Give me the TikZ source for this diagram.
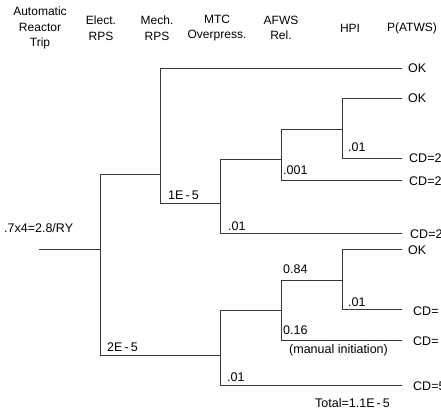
\documentclass[tikz,border=0pt]{standalone}
\usepackage{fontspec}
\setmainfont{Liberation Sans}
\begin{document}
\begin{tikzpicture}[x=1pt,y=-1pt,
  ln/.style={draw=black!78,line width=0.75pt},
  hd/.style={align=center,inner sep=0pt,font=\fontsize{12}{15.5}\selectfont},
  lb/.style={anchor=west,inner sep=0pt,font=\fontsize{12.5}{14}\selectfont},
  en/.style={anchor=west,inner sep=0pt,font=\fontsize{12.5}{14}\selectfont}]
\clip (0,0) rectangle (441,416);
\fill[white] (0,0) rectangle (441,416);
% headers
\node[hd] (h1) at (40,28) {Automatic\\Reactor\\Trip};
\node[hd] (h2) at (101,28) {Elect.\\RPS};
\node[hd] (h3) at (157,28) {Mech.\\RPS};
\node[hd] (h4) at (217,28) {MTC\\Overpress.};
\node[hd] (h5) at (281,28) {AFWS\\Rel.};
\node[hd] (h6) at (350,28) {HPI};
\node[hd] (h7) at (412,28) {P(ATWS)};
% coordinates
\coordinate (s) at (39,249);
\coordinate (j0) at (100,249);
\coordinate (j0t) at (100,174);
\coordinate (j0b) at (100,355);
\coordinate (bt) at (160,68);
\coordinate (bb) at (160,203);
\coordinate (ct) at (220,159);
\coordinate (cb) at (220,233);
\coordinate (dt) at (281,129);
\coordinate (db) at (281,180);
\coordinate (et) at (342,98);
\coordinate (eb) at (342,158);
\coordinate (ft) at (220,310);
\coordinate (fb) at (220,385);
\coordinate (gt) at (281,280);
\coordinate (gb) at (281,340);
\coordinate (ht) at (342,249);
\coordinate (hb) at (342,309);
% ends
\coordinate (o1) at (402,68);
\coordinate (o2) at (402,98);
\coordinate (o3) at (402,158);
\coordinate (o4) at (402,180);
\coordinate (o5) at (402,233);
\coordinate (o6) at (402,249);
\coordinate (o7) at (402,309);
\coordinate (o8) at (402,340);
\coordinate (o9) at (402,385);
% tree
\draw[ln] (s) -- (j0);
\draw[ln] (j0t) -- (j0b);
\draw[ln] (j0t) -- (bt |- j0t);
\draw[ln] (o1) -| (bb) -- (cb |- bb);
\draw[ln] (ct) -- (cb) -- (o5);
\draw[ln] (ct) -- (dt |- ct);
\draw[ln] (dt) -- (db) -- (o4);
\draw[ln] (dt) -- (et |- dt);
\draw[ln] (o2) -| (eb) -- (o3);
\draw[ln] (j0b) -- (fb |- j0b);
\draw[ln] (ft) -- (fb) -- (o9);
\draw[ln] (ft) -- (gt |- ft);
\draw[ln] (gt) -- (gb) -- (o8);
\draw[ln] (gt) -- (ht |- gt);
\draw[ln] (o6) -| (hb) -- (o7);
% branch labels
\node[lb] (l0) at (4,228) {.7x4=2.8/RY};
\node[lb] (l1) at (168,195) {1E\,-\,5};
\node[lb] (l2) at (228,226) {.01};
\node[lb] (l3) at (283,170) {.001};
\node[lb] (l4) at (348,147) {.01};
\node[lb] (l5) at (107,347) {2E\,-\,5};
\node[lb] (l6) at (227,377) {.01};
\node[lb] (l7) at (283,269) {0.84};
\node[lb] (l8) at (348,302) {.01};
\node[lb] (l9) at (283,330) {0.16};
\node[lb] (l10) at (289,350) {(manual initiation)};
\node[lb] (tot) at (315,403) {Total=1.1E\,-\,5};
% end labels
\node[en] (t1) at (408,68) {OK};
\node[en] (t2) at (408,98) {OK};
\node[en] (t3) at (409,158) {CD=2.};
\node[en] (t4) at (409,181) {CD=2.};
\node[en] (t5) at (410,234) {CD=2};
\node[en] (t6) at (408,250) {OK};
\node[en] (t7) at (413,311) {CD=};
\node[en] (t8) at (413,341) {CD=};
\node[en] (t9) at (413,386) {CD=5};
\end{tikzpicture}
\end{document}
